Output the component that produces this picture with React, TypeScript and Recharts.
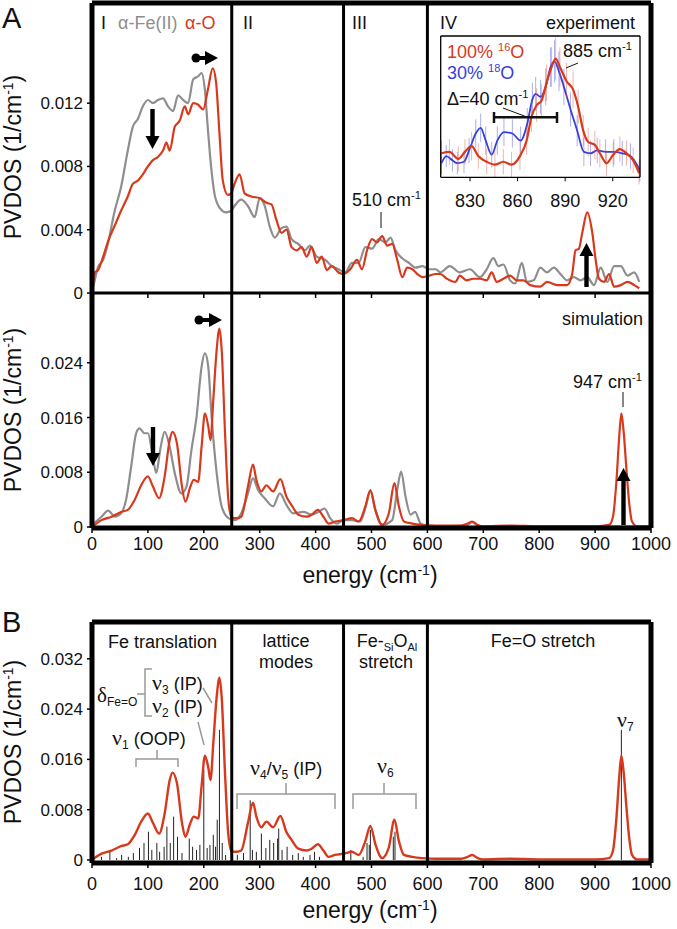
import { LineChart, Line, XAxis, YAxis, ReferenceLine, ErrorBar } from 'recharts';

// energy (cm-1), PVDOS (1/cm-1)
const expGray: [number, number][] = [
  [0, 0.0002], [2, 0.0004], [11, 0.00166], [20, 0.0021], [29, 0.0032], [40, 0.0051], [52, 0.0067], [64, 0.009],
  [73, 0.0105], [82, 0.011], [91, 0.0118], [100, 0.0122], [109, 0.012], [118, 0.0122], [127, 0.0123], [136, 0.0118],
  [145, 0.0115], [154, 0.0125], [163, 0.0122], [172, 0.012], [181, 0.0135], [190, 0.0137], [196, 0.0139], [202, 0.0128],
  [207, 0.0105], [213, 0.008], [219, 0.0063], [228, 0.0054], [240, 0.0051], [249, 0.0052], [255, 0.0055], [267, 0.0059],
  [279, 0.0055], [291, 0.0048], [300, 0.006], [309, 0.0055], [318, 0.0042], [327, 0.0035], [339, 0.0041], [348, 0.0042],
  [357, 0.0034], [369, 0.0031], [381, 0.0027], [390, 0.003], [402, 0.0023], [417, 0.0021], [429, 0.0017], [441, 0.0015],
  [453, 0.0013], [465, 0.0019], [477, 0.0019], [489, 0.0029], [501, 0.0028], [513, 0.0034], [525, 0.0032], [534, 0.0035],
  [543, 0.0027], [555, 0.0022], [567, 0.0019], [579, 0.0016], [591, 0.0017], [603, 0.0015], [615, 0.0015], [623, 0.0013],
  [640, 0.0017], [658, 0.0013], [676, 0.0015], [694, 0.001], [706, 0.0015], [718, 0.0022], [727, 0.0017], [736, 0.0018],
  [748, 0.0008], [757, 0.0006], [769, 0.0019], [778, 0.0007], [790, 0.0008], [802, 0.0016], [814, 0.0013], [826, 0.0016],
  [838, 0.0012], [850, 0.0008], [862, 0.001], [874, 0.0008], [886, 0.001], [898, 0.0005], [910, 0.0016], [922, 0.0007],
  [934, 0.0017], [946, 0.0017], [958, 0.0011], [970, 0.0013], [979, 0.0007],
];

const expRed: [number, number][] = [
  [0, 0], [5, 0.0013], [11, 0.00145], [20, 0.0023], [29, 0.0033], [40, 0.0042], [52, 0.0052], [64, 0.0061],
  [73, 0.0069], [82, 0.0071], [91, 0.0075], [100, 0.008], [109, 0.0084], [118, 0.0086], [127, 0.009], [133, 0.0095],
  [139, 0.009], [148, 0.0105], [157, 0.0109], [166, 0.0118], [172, 0.0113], [181, 0.012], [190, 0.0119], [199, 0.0116],
  [207, 0.0128], [216, 0.0142], [222, 0.0133], [228, 0.0101], [234, 0.0071], [243, 0.0062], [249, 0.0063], [255, 0.0069],
  [264, 0.0075], [273, 0.0063], [285, 0.0061], [300, 0.006], [312, 0.0057], [321, 0.0056], [330, 0.0046], [339, 0.0038],
  [348, 0.004], [357, 0.0029], [366, 0.0027], [375, 0.0029], [384, 0.0023], [393, 0.0029], [402, 0.0019], [411, 0.0023],
  [420, 0.00145], [429, 0.0017], [441, 0.0013], [450, 0.0012], [462, 0.0015], [474, 0.0021], [483, 0.0015], [492, 0.0027],
  [501, 0.0034], [510, 0.0032], [519, 0.0036], [528, 0.003], [537, 0.0031], [546, 0.0021], [555, 0.001], [564, 0.0016],
  [573, 0.0015], [582, 0.0012], [591, 0.001], [603, 0.0011], [615, 0.0012], [623, 0.0012], [635, 0.0009], [650, 0.0007],
  [658, 0.0011], [670, 0.0008], [682, 0.0009], [694, 0.0009], [706, 0.0008], [715, 0.0013], [724, 0.0007], [736, 0.0009],
  [748, 0.0011], [760, 0.0008], [772, 0.0008], [784, 0.0005], [802, 0.0004], [814, 0.0007], [832, 0.0005], [850, 0.0005],
  [859, 0.0012], [865, 0.0027], [871, 0.0028], [877, 0.0038], [886, 0.0051], [895, 0.0038], [901, 0.0021], [907, 0.0009],
  [916, 0.0007], [925, 0.0012], [934, 0.0004], [946, 0.0005], [958, 0.0007], [970, 0.0005], [979, 0.0003],
];

const simGray: [number, number][] = [
  [0, 0.0003], [17, 0.0015], [29, 0.0024], [41, 0.0015], [52, 0.002], [61, 0.004], [70, 0.0088], [79, 0.0137],
  [85, 0.0144], [94, 0.0137], [100, 0.0137], [107, 0.0113], [115, 0.0079], [122, 0.0113], [130, 0.0139], [139, 0.0117],
  [148, 0.0079], [160, 0.0049], [169, 0.0059], [178, 0.0113], [187, 0.0161], [196, 0.0234], [202, 0.0254], [208, 0.0234],
  [214, 0.0161], [223, 0.0079], [232, 0.003], [244, 0.0013], [256, 0.001], [267, 0.002], [279, 0.0049], [288, 0.0071],
  [297, 0.0054], [309, 0.0042], [324, 0.003], [336, 0.0049], [348, 0.0032], [360, 0.002], [378, 0.0022], [393, 0.0018],
  [405, 0.0022], [416, 0.0027], [426, 0.0013], [438, 0.0005], [450, 0.001], [465, 0.001], [480, 0.0008], [489, 0.0028],
  [498, 0.0052], [507, 0.0024], [519, 0.0003], [537, 0.001], [546, 0.0054], [553, 0.0081], [561, 0.0044], [570, 0.0018],
  [578, 0.0022], [588, 0.0005], [603, 0.0001], [670, 0.0002], [680, 0.0007], [690, 0.0002], [700, 0.0001], [1000, 0.0001],
];

const simRed: [number, number][] = [
  [0, 0], [17, 0.001], [35, 0.0015], [52, 0.0022], [64, 0.0025], [76, 0.0039], [88, 0.0061], [100, 0.0074],
  [109, 0.0059], [120, 0.0042], [130, 0.0074], [139, 0.0127], [144, 0.0139], [152, 0.0122], [161, 0.0059], [167, 0.0037],
  [176, 0.0059], [182, 0.0069], [190, 0.0066], [196, 0.0117], [202, 0.0166], [208, 0.0147], [212, 0.0127], [217, 0.0186],
  [223, 0.0259], [228, 0.029], [232, 0.0259], [238, 0.0137], [244, 0.0039], [250, 0.0013], [259, 0.0013], [267, 0.0015],
  [279, 0.0059], [288, 0.0091], [294, 0.0069], [303, 0.0052], [312, 0.0061], [324, 0.0052], [337, 0.007], [348, 0.0044],
  [357, 0.0032], [369, 0.0018], [384, 0.0015], [393, 0.0018], [404, 0.0025], [414, 0.0015], [423, 0.0005], [435, 0.0008],
  [450, 0.001], [465, 0.0013], [477, 0.0008], [489, 0.003], [498, 0.0054], [507, 0.0025], [519, 0.0003], [531, 0.002],
  [541, 0.0064], [549, 0.003], [558, 0.0008], [573, 0.0005], [591, 0.0003], [615, 0.0002], [660, 0.0002], [672, 0.0005],
  [680, 0.0008], [690, 0.0003], [700, 0.0001], [750, 0.0002], [800, 0.0001], [900, 0.0001], [925, 0.0003], [932, 0.0015],
  [938, 0.0065], [943, 0.013], [947, 0.0166], [951, 0.014], [956, 0.0085], [961, 0.0035], [966, 0.0008], [975, 0.0001],
  [1000, 0.0001],
];

// calculated mode energies and intensities (panel B sticks)
const sticks: [number, number][] = [
  [17, 0.0005], [32, 0.0013], [44, 0.0003], [53, 0.0008], [65, 0.0005], [74, 0.0011], [85, 0.0019], [93, 0.0027],
  [101, 0.0045], [107, 0.0016], [116, 0.0027], [121, 0.0013], [129, 0.0021], [134, 0.0053], [140, 0.0027], [146, 0.0069],
  [153, 0.0037], [161, 0.0011], [174, 0.0034], [180, 0.0021], [187, 0.0016], [193, 0.0024], [200, 0.0143], [206, 0.0019],
  [211, 0.0024], [217, 0.004], [221, 0.0021], [224, 0.0064], [228, 0.0207], [233, 0.0027], [239, 0.0008],
  [260, 0.0008], [271, 0.0011], [283, 0.0095], [287, 0.0016], [294, 0.0013], [303, 0.0042], [311, 0.0019], [318, 0.0032],
  [325, 0.0027], [332, 0.0034], [334, 0.005], [340, 0.0016], [349, 0.0021], [359, 0.0008], [369, 0.0011], [378, 0.0005],
  [390, 0.0008], [398, 0.0013], [407, 0.0005], [463, 0.0016], [485, 0.0005], [492, 0.0027], [496, 0.0024], [498, 0.0048],
  [539, 0.0037], [542, 0.0045], [947, 0.0207],
];

// inset: energy, relative intensity, error
const insetRed: [number, number, number][] = [
  [812, 0.17, 0.09], [817, 0.18, 0.09], [822.6, 0.13, 0.09], [826.8, 0.18, 0.09], [831, 0.22, 0.1], [835.2, 0.15, 0.09],
  [840.5, 0.11, 0.09], [845.7, 0.09, 0.09], [851, 0.11, 0.09], [856.2, 0.09, 0.09], [861.5, 0.15, 0.1], [865.7, 0.26, 0.1],
  [868.8, 0.43, 0.11], [872, 0.51, 0.12], [875, 0.54, 0.12], [878.3, 0.67, 0.13], [881.4, 0.78, 0.14], [884, 0.84, 0.15],
  [886.7, 0.78, 0.14], [890.9, 0.68, 0.13], [895, 0.62, 0.13], [898.2, 0.5, 0.12], [901.4, 0.33, 0.11], [904.5, 0.25, 0.1],
  [908.7, 0.23, 0.1], [911.9, 0.17, 0.1], [916.1, 0.1, 0.09], [920.3, 0.16, 0.09], [924.5, 0.2, 0.09], [928.7, 0.17, 0.09],
  [932.9, 0.12, 0.09], [936.6, 0.03, 0.08],
];

const insetBlue: [number, number, number][] = [
  [812, 0.1, 0.08], [815, 0.15, 0.08], [818.9, 0.12, 0.08], [822, 0.1, 0.08], [826.2, 0.11, 0.08], [829.4, 0.19, 0.09],
  [833.6, 0.31, 0.1], [836.7, 0.35, 0.1], [839.9, 0.26, 0.1], [843.7, 0.16, 0.09], [847.2, 0.26, 0.1], [851.4, 0.32, 0.1],
  [856.7, 0.31, 0.1], [861.9, 0.26, 0.1], [866.1, 0.38, 0.11], [869.3, 0.55, 0.12], [871.4, 0.59, 0.12], [874.5, 0.57, 0.12],
  [877.7, 0.64, 0.13], [880.8, 0.78, 0.14], [883.3, 0.82, 0.15], [886.1, 0.75, 0.14], [889.2, 0.64, 0.13], [893.4, 0.48, 0.12],
  [897.6, 0.33, 0.11], [901.8, 0.18, 0.1], [906, 0.17, 0.09], [910.2, 0.19, 0.09], [915.5, 0.18, 0.09], [920.7, 0.18, 0.09],
  [926, 0.17, 0.09], [931.2, 0.15, 0.09], [937.1, 0.05, 0.08],
];

const energyTicks = [0, 100, 200, 300, 400, 500, 600, 700, 800, 900, 1000];
const regionBounds = [250, 450, 600];
const topTicks = [0, 0.004, 0.008, 0.012];
const simTicks = [0, 0.008, 0.016, 0.024];
const bTicks = [0, 0.008, 0.016, 0.024, 0.032];
const insetTicks = [830, 860, 890, 920];

const RED = '#d8391d';
const GRAY = '#8e8e8e';
const BLUE = '#3540db';
const FONT = '"Liberation Sans", Arial, Helvetica, sans-serif';
const SERIF = '"Liberation Serif", "Times New Roman", serif';

const pts = (arr: [number, number][]) => arr.map(([e, v]) => ({ e, v }));
const pts3 = (arr: [number, number, number][]) => arr.map(([e, v, err]) => ({ e, v, err }));
const fmt = (v: number) => (v === 0 ? '0' : v.toFixed(3));

const OUTER = 5;
const INNER = 3;

function frameLines(yMin: number, yMax: number, edges: { top?: number; bottom?: number }) {
  const out: any[] = [
    <ReferenceLine key="l" x={0} stroke="#000" strokeWidth={OUTER} ifOverflow="visible" />,
    <ReferenceLine key="r" x={1000} stroke="#000" strokeWidth={OUTER} ifOverflow="visible" />,
  ];
  if (edges.top) out.push(<ReferenceLine key="t" y={yMax} stroke="#000" strokeWidth={edges.top} ifOverflow="visible" />);
  if (edges.bottom) out.push(<ReferenceLine key="b" y={yMin} stroke="#000" strokeWidth={edges.bottom} ifOverflow="visible" />);
  regionBounds.forEach((b) =>
    out.push(<ReferenceLine key={'d' + b} x={b} stroke="#000" strokeWidth={INNER} ifOverflow="visible" />)
  );
  return out;
}

const tickFontY = { fontSize: 17, fill: '#111', fontFamily: FONT };
const tickFontX = { fontSize: 18, fill: '#111', fontFamily: FONT };

function Arrow({ x, y1, y2 }: { x: number; y1: number; y2: number }) {
  // y1 = tail, y2 = tip
  const dir = y2 > y1 ? 1 : -1;
  const headBase = y2 - dir * 13;
  return (
    <g fill="#000">
      <rect x={x - 2.2} y={Math.min(y1, headBase)} width={4.4} height={Math.abs(headBase - y1)} />
      <polygon points={`${x - 7},${headBase} ${x + 7},${headBase} ${x},${y2}`} />
    </g>
  );
}

function DotArrow({ x1, x2, y }: { x1: number; x2: number; y: number }) {
  return (
    <g fill="#000">
      <circle cx={x1} cy={y} r={4.5} />
      <rect x={x1} y={y - 2} width={x2 - x1 - 12} height={4} />
      <polygon points={`${x2 - 13},${y - 7} ${x2 - 13},${y + 7} ${x2},${y}`} />
    </g>
  );
}

function Cm({ x, y, size, anchor, fill, prefix }: any) {
  return (
    <text x={x} y={y} fontSize={size} textAnchor={anchor || 'start'} fill={fill || '#111'} fontFamily={FONT}>
      {prefix}cm
      <tspan dy={-size * 0.38} fontSize={size * 0.62}>-1</tspan>
    </text>
  );
}

function Overlay() {
  const bc = '#9a9a9a';
  return (
    <svg width={677} height={929} style={{ position: 'absolute', left: 0, top: 0, pointerEvents: 'none' }} fontFamily={FONT}>
      {/* panel letters */}
      <text x={2} y={28} fontSize={29} fill="#111">A</text>
      <text x={2} y={632} fontSize={29} fill="#111">B</text>

      {/* y axis titles */}
      {[157, 410, 742].map((cy) => (
        <text key={cy} x={21} y={cy} fontSize={23} fill="#111" textAnchor="middle" transform={`rotate(-90 21 ${cy})`}>
          PVDOS (1/cm<tspan dy={-8} fontSize={14}>-1</tspan><tspan dy={8}>)</tspan>
        </text>
      ))}
      {/* x axis titles */}
      {[583, 918].map((y) => (
        <text key={y} x={370} y={y} fontSize={23} fill="#111" textAnchor="middle">
          energy (cm<tspan dy={-8} fontSize={14}>-1</tspan><tspan dy={8}>)</tspan>
        </text>
      ))}

      {/* panel A region labels */}
      <text x={101} y={29} fontSize={18} fill="#111">I</text>
      <text x={118} y={29} fontSize={18} fill={GRAY}>α-Fe(II)</text>
      <text x={185} y={29} fontSize={18} fill={RED}>α-O</text>
      <text x={243} y={29} fontSize={18} fill="#111">II</text>
      <text x={352} y={29} fontSize={18} fill="#111">III</text>
      <text x={440} y={29} fontSize={18} fill="#111">IV</text>
      <text x={635} y={29} fontSize={18} fill="#111" textAnchor="end">experiment</text>
      <text x={643} y={325} fontSize={18} fill="#111" textAnchor="end">simulation</text>

      <Cm x={352} y={206} size={18} prefix="510 " />
      <line x1={381} y1={212} x2={381} y2={228} stroke="#111" strokeWidth={1} />
      <Cm x={573} y={388} size={18} prefix="947 " />
      <line x1={623} y1={392} x2={623} y2={407} stroke="#111" strokeWidth={1} />

      {/* inset labels */}
      <text x={447} y={58} fontSize={18} fill={RED}>
        100% <tspan dy={-7} fontSize={11}>16</tspan><tspan dy={7}>O</tspan>
      </text>
      <text x={447} y={79} fontSize={18} fill={BLUE}>
        30% <tspan dy={-7} fontSize={11}>18</tspan><tspan dy={7}>O</tspan>
      </text>
      <Cm x={563} y={57} size={18} prefix="885 " />
      <line x1={566} y1={68} x2={578} y2={63} stroke="#111" strokeWidth={1} />
      <Cm x={447} y={105} size={18} prefix="Δ=40 " />
      <line x1={503} y1={108} x2={527} y2={117} stroke="#111" strokeWidth={1} />
      <g stroke="#111" strokeWidth={2.5}>
        <line x1={494} y1={117.3} x2={557} y2={117.3} />
        <line x1={494} y1={112} x2={494} y2={123} />
        <line x1={557} y1={112} x2={557} y2={123} />
      </g>

      {/* arrows */}
      <Arrow x={152.5} y1={109} y2={149} />
      <DotArrow x1={196} x2={218} y={58} />
      <Arrow x={586.5} y1={287} y2={243} />
      <Arrow x={153} y1={427} y2={466} />
      <DotArrow x1={199} x2={222} y={320} />
      <Arrow x={623.5} y1={525} y2={468} />

      {/* panel B labels */}
      <text x={162.5} y={648} fontSize={18} fill="#111" textAnchor="middle">Fe translation</text>
      <text x={286} y={647} fontSize={18} fill="#111" textAnchor="middle">lattice</text>
      <text x={286} y={668} fontSize={18} fill="#111" textAnchor="middle">modes</text>
      <text x={387} y={647} fontSize={18} fill="#111" textAnchor="middle">
        Fe-<tspan dy={4} fontSize={11}>Si</tspan><tspan dy={-4}>O</tspan><tspan dy={4} fontSize={11}>Al</tspan>
      </text>
      <text x={386} y={668} fontSize={18} fill="#111" textAnchor="middle">stretch</text>
      <text x={543} y={647} fontSize={18} fill="#111" textAnchor="middle">Fe=O stretch</text>

      {/* assignments */}
      <text x={112} y={745} fontSize={18} fill="#111">
        <tspan fontFamily={SERIF} fontSize={22}>ν</tspan><tspan dy={4} fontSize={12}>1</tspan><tspan dy={-4}> (OOP)</tspan>
      </text>
      <g stroke={bc} strokeWidth={1.5} fill="none">
        <polyline points="136,767 136,759 178,759 178,767" />
        <line x1={157} y1={759} x2={157} y2={750} />
      </g>
      <text x={97} y={702} fontFamily={SERIF} fontSize={21} fill="#111">
        δ<tspan dy={4} fontSize={12} fontFamily={FONT}>Fe=O</tspan>
      </text>
      <g stroke={bc} strokeWidth={1.5} fill="none">
        <polyline points="152,669 145,669 145,716 152,716" />
        <line x1={137} y1={694} x2={145} y2={694} />
        <line x1={203} y1={688} x2={212} y2={703} />
        <line x1={198} y1={722} x2={204} y2={745} />
      </g>
      <text x={152} y={690} fontSize={18} fill="#111">
        <tspan fontFamily={SERIF} fontSize={22}>ν</tspan><tspan dy={4} fontSize={12}>3</tspan><tspan dy={-4}> (IP)</tspan>
      </text>
      <text x={152} y={713} fontSize={18} fill="#111">
        <tspan fontFamily={SERIF} fontSize={22}>ν</tspan><tspan dy={4} fontSize={12}>2</tspan><tspan dy={-4}> (IP)</tspan>
      </text>
      <text x={250} y={775} fontSize={18} fill="#111">
        <tspan fontFamily={SERIF} fontSize={22}>ν</tspan><tspan dy={4} fontSize={12}>4</tspan><tspan dy={-4}>/</tspan>
        <tspan fontFamily={SERIF} fontSize={22}>ν</tspan><tspan dy={4} fontSize={12}>5</tspan><tspan dy={-4}> (IP)</tspan>
      </text>
      <g stroke={bc} strokeWidth={1.5} fill="none">
        <polyline points="237,809 237,794 335,794 335,809" />
        <line x1={286} y1={794} x2={286} y2={783} />
        <polyline points="353,809 353,794 416,794 416,809" />
        <line x1={384} y1={794} x2={384} y2={783} />
      </g>
      <text x={377} y={773} fontSize={18} fill="#111">
        <tspan fontFamily={SERIF} fontSize={22}>ν</tspan><tspan dy={4} fontSize={12}>6</tspan>
      </text>
      <text x={617} y={727} fontSize={18} fill="#111">
        <tspan fontFamily={SERIF} fontSize={22}>ν</tspan><tspan dy={4} fontSize={12}>7</tspan>
      </text>
    </svg>
  );
}

const TOP_MAX = 0.01833;
const SIM_MIN = -0.00015;
const SIM_MAX = 0.0342;
const B_MIN = -0.00048;
const B_MAX = 0.03785;

export default function App() {
  return (
    <div style={{ position: 'absolute', left: 0, top: 0, width: 677, height: 929, background: '#fff', fontFamily: FONT }}>
      {/* A: experiment */}
      <div style={{ position: 'absolute', left: 0, top: 0 }}>
        <LineChart width={677} height={310} margin={{ top: 3, right: 26, bottom: 7, left: 0 }}>
          <XAxis type="number" dataKey="e" domain={[0, 1000]} ticks={energyTicks} height={10} axisLine={false}
            tickSize={5} tickFormatter={() => ''} tickLine={{ stroke: '#000', strokeWidth: 1.5 }} allowDataOverflow />
          <YAxis type="number" domain={[0, TOP_MAX]} ticks={topTicks} width={92} axisLine={false} tickSize={5}
            tickMargin={4} tick={tickFontY} tickFormatter={fmt} tickLine={{ stroke: '#000', strokeWidth: 1.5 }} allowDataOverflow />
          <Line data={pts(expGray)} dataKey="v" type="monotone" stroke={GRAY} strokeWidth={2.2} dot={false} isAnimationActive={false} />
          <Line data={pts(expRed)} dataKey="v" type="monotone" stroke={RED} strokeWidth={2.2} dot={false} isAnimationActive={false} />
          {frameLines(0, TOP_MAX, { top: OUTER, bottom: INNER })}
        </LineChart>
      </div>

      {/* A: simulation */}
      <div style={{ position: 'absolute', left: 0, top: 293 }}>
        <LineChart width={677} height={290} margin={{ top: 0, right: 26, bottom: 25, left: 0 }}>
          <XAxis type="number" dataKey="e" domain={[0, 1000]} ticks={energyTicks} height={30} axisLine={false}
            tickSize={5} tickMargin={4} tick={tickFontX} tickLine={{ stroke: '#000', strokeWidth: 1.5 }} allowDataOverflow />
          <YAxis type="number" domain={[SIM_MIN, SIM_MAX]} ticks={simTicks} width={92} axisLine={false} tickSize={5}
            tickMargin={4} tick={tickFontY} tickFormatter={fmt} tickLine={{ stroke: '#000', strokeWidth: 1.5 }} allowDataOverflow />
          <Line data={pts(simGray)} dataKey="v" type="monotone" stroke={GRAY} strokeWidth={2.2} dot={false} isAnimationActive={false} />
          <Line data={pts(simRed)} dataKey="v" type="monotone" stroke={RED} strokeWidth={2.2} dot={false} isAnimationActive={false} />
          {frameLines(SIM_MIN, SIM_MAX, { bottom: OUTER })}
        </LineChart>
      </div>

      {/* B */}
      <div style={{ position: 'absolute', left: 0, top: 600 }}>
        <LineChart width={677} height={300} margin={{ top: 22, right: 26, bottom: 7, left: 0 }}>
          <XAxis type="number" dataKey="e" domain={[0, 1000]} ticks={energyTicks} height={30} axisLine={false}
            tickSize={5} tickMargin={9} tick={tickFontX} tickLine={{ stroke: '#000', strokeWidth: 1.5 }} allowDataOverflow />
          <YAxis type="number" domain={[B_MIN, B_MAX]} ticks={bTicks} width={92} axisLine={false} tickSize={5}
            tickMargin={4} tick={tickFontY} tickFormatter={fmt} tickLine={{ stroke: '#000', strokeWidth: 1.5 }} allowDataOverflow />
          {sticks.map(([e, v]) => (
            <ReferenceLine key={'s' + e} segment={[{ x: e, y: 0 }, { x: e, y: v }]} stroke="#222" strokeWidth={1} />
          ))}
          <Line data={pts(simRed)} dataKey="v" type="monotone" stroke={RED} strokeWidth={2.4} dot={false} isAnimationActive={false} />
          {frameLines(B_MIN, B_MAX, { top: OUTER, bottom: OUTER })}
        </LineChart>
      </div>

      {/* inset */}
      <div style={{ position: 'absolute', left: 430, top: 30 }}>
        <LineChart width={220} height={190} margin={{ top: 6, right: 10, bottom: 12.7, left: 10.7 }}>
          <XAxis type="number" dataKey="e" domain={[811.5, 937.2]} ticks={insetTicks} height={30} axisLine={false}
            tickSize={4} tickMargin={13} tick={tickFontX} tickLine={{ stroke: '#000', strokeWidth: 1 }} allowDataOverflow />
          <YAxis type="number" domain={[0, 1]} hide allowDataOverflow />
          <Line data={pts3(insetBlue)} dataKey="v" type="monotone" stroke={BLUE} strokeWidth={1.8} dot={false} isAnimationActive={false}>
            <ErrorBar dataKey="err" width={0} stroke="rgba(70,80,220,0.45)" strokeWidth={1} direction="y" />
          </Line>
          <Line data={pts3(insetRed)} dataKey="v" type="monotone" stroke={RED} strokeWidth={2.2} dot={false} isAnimationActive={false}>
            <ErrorBar dataKey="err" width={0} stroke="rgba(220,90,70,0.45)" strokeWidth={1} direction="y" />
          </Line>
          <ReferenceLine x={811.5} stroke="#000" strokeWidth={1.3} ifOverflow="visible" />
          <ReferenceLine x={937.2} stroke="#000" strokeWidth={1.3} ifOverflow="visible" />
          <ReferenceLine y={0} stroke="#000" strokeWidth={1.3} ifOverflow="visible" />
          <ReferenceLine y={1} stroke="#000" strokeWidth={1.3} ifOverflow="visible" />
        </LineChart>
      </div>

      <Overlay />
    </div>
  );
}
